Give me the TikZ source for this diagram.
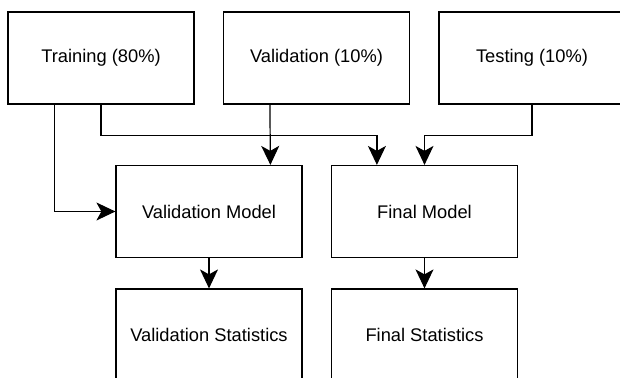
\documentclass[tikz,border=0pt]{standalone}
\usepackage{fontspec}
\setmainfont{Liberation Sans}
\usetikzlibrary{arrows.meta,calc}

\tikzset{
	block/.style={draw, line width=1.2pt, minimum width=186pt, minimum height=92pt, inner sep=0pt, font=\fontsize{18.3}{22}\selectfont},
	flow/.style={draw, line width=1.2pt, -{Stealth[length=19pt,width=18pt,inset=5pt]}},
}

\begin{document}
\begin{tikzpicture}[x=1pt,y=-1pt]
		\clip (0,0) rectangle (620,377);
		% data splits
		\draw (101,58) node[block] (train){Training (80\%)};
		\draw (316.5,58) node[block] (valid){Validation (10\%)};
		\draw (532,58) node[block] (test){Testing (10\%)};
		% models and results
		\draw (209,211.5) node[block] (vmodel){Validation Model};
		\draw (424.5,211.5) node[block] (fmodel){Final Model};
		\draw (209,335) node[block] (vstats){Validation Statistics};
		\draw (424.5,335) node[block] (fstats){Final Statistics};

		\draw [flow] ($(train.south west)+(47,0)$) |- (vmodel.west);
		\draw [flow] (train.south) -- ++(0,31) -| ($(fmodel.north west)+(46,0)$);
		\draw [flow] ($(valid.south west)+(47,0)$) -- ($(vmodel.north west)+(155,0)$);
		\draw [flow] (test.south) -- ++(0,31) -| (fmodel.north);
		\draw [flow] (vmodel.south) -- (vstats.north);
		\draw [flow] (fmodel.south) -- (fstats.north);
	\end{tikzpicture}
\end{document}
